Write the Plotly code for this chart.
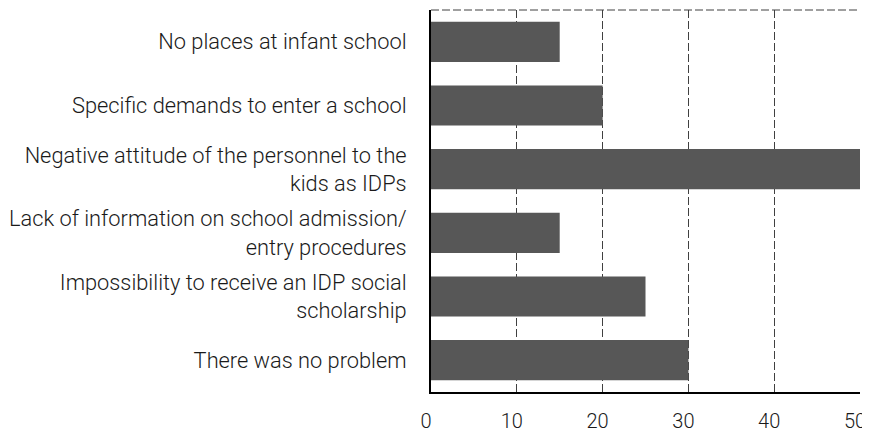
import plotly.graph_objects as go

categories = [
    "No places at infant school",
    "Specific demands to enter a school",
    "Negative attitude of the personnel to the<br>kids as IDPs",
    "Lack of information on school admission/<br>entry procedures",
    "Impossibility to receive an IDP social<br>scholarship",
    "There was no problem",
]
values = [15, 20, 50, 15, 25, 30]
x_ticks = [0, 10, 20, 30, 40, 50]

fig = go.Figure(go.Bar(
    y=categories, x=values, orientation="h",
    marker=dict(color="#575757", line=dict(width=0)),
    width=0.63,
))

fig.update_layout(
    width=870, height=433,
    margin=dict(l=423, r=18, t=2, b=49),
    plot_bgcolor="white", paper_bgcolor="white",
    font=dict(family="Roboto", size=21.8, color="#1a1a1a", weight=300),
    showlegend=False,
    shapes=[dict(type="line", xref="paper", yref="paper", x0=0, x1=1, y0=1, y1=1,
                 line=dict(color="#404040", width=1, dash="8px,3px"))],
)
fig.update_xaxes(
    range=[0, 50], tickvals=x_ticks, showgrid=True, gridcolor="#404040", gridwidth=1,
    griddash="8px,3px", showline=True, linecolor="black", linewidth=2, zeroline=False,
    ticks="", ticklabelstandoff=10, automargin=False, ticklabelshift=-5,
    tickfont=dict(size=20),
)
fig.update_yaxes(
    autorange="reversed", showline=True, linecolor="black", linewidth=2,
    ticks="", ticklabelstandoff=18, showgrid=False, automargin=False,
)
fig.write_html("out.html")
